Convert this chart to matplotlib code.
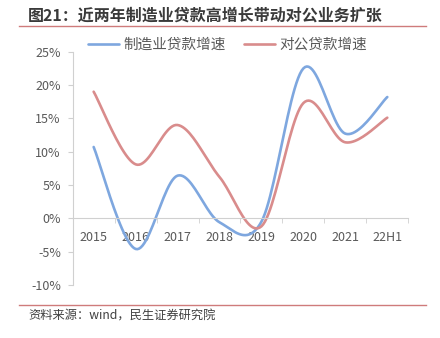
import numpy as np
import matplotlib
matplotlib.use("Agg")
import matplotlib.pyplot as plt
from matplotlib.lines import Line2D

plt.rcParams['font.family'] = ['Noto Sans CJK SC', 'DejaVu Sans']

# 贷款增速（%）
periods = ['2015', '2016', '2017', '2018', '2019', '2020', '2021', '22H1']
zhizao = [10.7, -4.6, 6.4, -0.6, -0.5, 22.5, 12.7, 18.2]
duigong = [19.0, 8.1, 14.0, 6.2, -1.2, 17.3, 11.4, 15.1]

BLUE = '#7ea7df'
RED = '#d98c8c'
GRAY = '#595959'
AXIS = '#d0d0d0'


def smooth(x, y, n=24):
    # 平滑折线（Catmull-Rom，类似 Excel 的平滑线）
    x = np.asarray(x, float)
    y = np.asarray(y, float)
    px = np.concatenate([[x[0]], x, [x[-1]]])
    py = np.concatenate([[y[0]], y, [y[-1]]])
    xs, ys = [], []
    t = np.linspace(0, 1, n, endpoint=False)
    for i in range(1, len(px) - 2):
        p0, p1, p2, p3 = py[i - 1], py[i], py[i + 1], py[i + 2]
        q0, q1, q2, q3 = px[i - 1], px[i], px[i + 1], px[i + 2]
        m1, m2 = (p2 - p0) / 2, (p3 - p1) / 2
        k1, k2 = (q2 - q0) / 2, (q3 - q1) / 2
        h00 = 2 * t**3 - 3 * t**2 + 1
        h10 = t**3 - 2 * t**2 + t
        h01 = -2 * t**3 + 3 * t**2
        h11 = t**3 - t**2
        ys.append(h00 * p1 + h10 * m1 + h01 * p2 + h11 * m2)
        xs.append(h00 * q1 + h10 * k1 + h01 * q2 + h11 * k2)
    xs.append([x[-1]])
    ys.append([y[-1]])
    return np.concatenate(xs), np.concatenate(ys)


fig = plt.figure(figsize=(4.4, 3.38), dpi=100)
ax = fig.add_axes([0.1652, 0.157, 0.7627, 0.690])

xpos = np.arange(len(periods))
bx, by = smooth(xpos, zhizao)
rx, ry = smooth(xpos, duigong)
ax.plot(bx, by, color=BLUE, lw=1.9, label='制造业贷款增速', solid_capstyle='round')
ax.plot(rx, ry, color=RED, lw=1.9, label='对公贷款增速', solid_capstyle='round')

ax.set_xlim(-0.5, len(periods) - 0.5)
ax.set_ylim(-10, 25)
ax.set_yticks(np.arange(-10, 26, 5))
ax.set_yticklabels([f'{v}%' for v in range(-10, 26, 5)])
ax.set_xticks(xpos)
ax.set_xticklabels(periods)
ax.set_xticks(np.arange(-0.5, len(periods), 1), minor=True)

for s in ['top', 'right']:
    ax.spines[s].set_visible(False)
ax.spines['left'].set_color(AXIS)
ax.spines['bottom'].set_color(AXIS)
ax.spines['bottom'].set_position(('data', 0))

ax.tick_params(axis='y', direction='out', length=3.5, color=AXIS, pad=5,
               labelsize=9, labelcolor=GRAY)
ax.tick_params(axis='x', which='major', length=0, pad=9, labelsize=9, labelcolor=GRAY)
ax.tick_params(axis='x', which='minor', direction='out', length=3.5, color=AXIS)

ax.legend(loc='center left', bbox_to_anchor=(88 / 440, 1 - 45 / 338),
          bbox_transform=fig.transFigure, ncol=2, frameon=False,
          fontsize=10.5, labelcolor=GRAY, handlelength=2.1, handletextpad=0.3,
          columnspacing=1.3, borderaxespad=0, borderpad=0)

fig.text(0.064, 1 - 16 / 338, '图21：近两年制造业贷款高增长带动对公业务扩张',
         fontsize=11.5, fontweight='bold', color='#3a3a3a', va='center', ha='left')
fig.add_artist(Line2D([19 / 440, 426 / 440], [1 - 26 / 338, 1 - 26 / 338],
                      color='#cf7b7b', lw=1.0, transform=fig.transFigure))
fig.add_artist(Line2D([19 / 440, 426 / 440], [1 - 305 / 338, 1 - 305 / 338],
                      color='#cf7b7b', lw=1.0, transform=fig.transFigure))
fig.text(0.064, 1 - 316 / 338, '资料来源：wind，民生证券研究院',
         fontsize=8.8, color='#404040', va='center', ha='left')

fig.savefig('out.png', dpi=100)
